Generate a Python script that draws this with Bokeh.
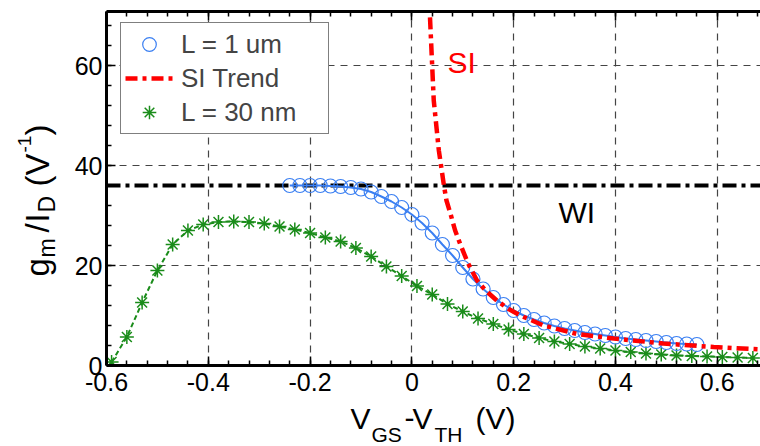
import math
from bokeh.plotting import figure
from bokeh.layouts import row, column
from bokeh.models import (Range1d, LinearAxis, FixedTicker, Label, Legend, LegendItem)
from bokeh.embed import file_html
from bokeh.resources import INLINE

# ---------------- data ----------------
l1um_vov = [-0.24, -0.22, -0.20, -0.18, -0.16, -0.14, -0.12, -0.10, -0.08, -0.06,
            -0.04, -0.02, 0.00, 0.02, 0.04, 0.06, 0.08, 0.10, 0.12, 0.14,
            0.16, 0.18, 0.20, 0.22, 0.24, 0.26, 0.28, 0.30, 0.32, 0.34,
            0.36, 0.38, 0.40, 0.42, 0.44, 0.46, 0.48, 0.50, 0.52, 0.54, 0.56]
l1um_gmid = [36.0, 36.0, 36.0, 36.0, 35.9, 35.8, 35.6, 35.3, 34.7, 33.8,
             32.8, 31.6, 30.2, 28.5, 26.5, 24.2, 22.0, 19.6, 17.3, 15.3,
             13.6, 12.2, 11.0, 10.0, 9.2, 8.5, 7.9, 7.4, 7.0, 6.6,
             6.3, 6.0, 5.7, 5.4, 5.2, 5.0, 4.8, 4.6, 4.4, 4.3, 4.2]

l30nm_vov = [-0.59, -0.56, -0.53, -0.50, -0.47, -0.44, -0.41, -0.38, -0.35, -0.32,
             -0.29, -0.26, -0.23, -0.20, -0.17, -0.14, -0.11, -0.08, -0.05, -0.02,
             0.01, 0.04, 0.07, 0.10, 0.13, 0.16, 0.19, 0.22, 0.25, 0.28,
             0.31, 0.34, 0.37, 0.40, 0.43, 0.46, 0.49, 0.52, 0.55, 0.58,
             0.61, 0.64, 0.67]
l30nm_gmid = [0.7, 5.7, 12.6, 19.0, 24.2, 27.0, 28.2, 28.7, 28.8, 28.7,
              28.4, 27.8, 27.2, 26.5, 25.6, 24.8, 23.5, 21.8, 19.8, 17.9,
              15.9, 14.2, 12.3, 10.8, 9.4, 8.3, 7.2, 6.3, 5.5, 4.8,
              4.3, 3.8, 3.4, 3.0, 2.7, 2.4, 2.2, 2.0, 1.9, 1.8,
              1.7, 1.6, 1.5]

si_vov = [0.032, 0.035, 0.043, 0.053, 0.063, 0.068, 0.076, 0.085, 0.095, 0.110,
          0.128, 0.145, 0.167, 0.190, 0.213, 0.259, 0.325, 0.397, 0.494, 0.593, 0.690]
si_gmid = [80.0, 71.0, 53.0, 43.0, 36.0, 33.0, 30.3, 27.0, 24.3, 20.5,
           17.0, 15.0, 13.0, 11.3, 10.0, 8.0, 6.3, 5.4, 4.4, 3.7, 3.2]

wi_vov = [-0.6, 0.69]
wi_gmid = [36.0, 36.0]

x_ticks = [-0.6, -0.4, -0.2, 0, 0.2, 0.4, 0.6]
x_tick_labels = ["-0.6", "-0.4", "-0.2", "0", "0.2", "0.4", "0.6"]
y_ticks = [0, 20, 40, 60]
y_tick_labels = ["0", "20", "40", "60"]

FONT = "Liberation Sans"
BLUE = "#3a7ff2"
GREEN = "#1a8c1a"
RED = "#ff0000"

X0, X1 = -0.6, 0.685
Y0, Y1 = 0.0, 70.8

# page geometry (pixels)
YLAB_W = 62
MAIN_W, MAIN_H = 760 - YLAB_W, 400
XLAB_H = 446 - MAIN_H
LEFT, BOTTOM = 106.0, 365.0
FW, FH = 654.0, 354.0
MID = 0.35  # Label anchor sits at text middle: baseline is this many font-sizes lower

p = figure(width=MAIN_W, height=MAIN_H, x_range=Range1d(X0, X1), y_range=Range1d(Y0, Y1),
           output_backend="svg", toolbar_location=None,
           min_border_left=int(LEFT) - YLAB_W, min_border_right=0,
           min_border_top=11, min_border_bottom=MAIN_H - int(BOTTOM))
p.outline_line_color = None
p.background_fill_color = "white"
p.border_fill_color = "white"

x_minor = [round(-0.6 + 0.04 * i, 2) for i in range(33)]
y_minor = [4 * i for i in range(18)]
xt = FixedTicker(ticks=x_ticks, minor_ticks=x_minor)
yt = FixedTicker(ticks=y_ticks, minor_ticks=y_minor)


def style_axis(ax, labels=True):
    ax.axis_line_width = 3
    ax.axis_line_color = "black"
    ax.major_tick_in = 9
    ax.major_tick_out = 0
    ax.minor_tick_in = 5
    ax.minor_tick_out = 0
    ax.major_tick_line_width = 1.5
    ax.minor_tick_line_width = 1.5
    ax.major_tick_line_color = "black"
    ax.minor_tick_line_color = "black"
    ax.major_label_text_font = FONT
    ax.major_label_text_color = "black"
    if labels:
        ax.major_label_text_font_size = "25px"
    else:
        ax.major_label_text_font_size = "0px"
        ax.major_label_standoff = 0


xa = p.xaxis[0]
xa.ticker = xt
xa.major_label_overrides = dict(zip(x_ticks, x_tick_labels))
style_axis(xa)
xa.major_label_standoff = 7

ya = p.yaxis[0]
ya.ticker = yt
ya.major_label_overrides = dict(zip(y_ticks, y_tick_labels))
style_axis(ya)
ya.major_label_standoff = 4

top = LinearAxis(ticker=xt)
style_axis(top, labels=False)
top.major_label_overrides = {t: "" for t in x_ticks}
p.add_layout(top, "above")

for g, t in ((p.xgrid[0], xt), (p.ygrid[0], yt)):
    g.ticker = t
    g.grid_line_color = "#444444"
    g.grid_line_dash = "7 6"
    g.grid_line_width = 1.2

# ---------------- series ----------------
p.line(wi_vov, wi_gmid, line_color="black", line_width=4, line_dash="14 5 4 5")

p.line(l30nm_vov, l30nm_gmid, line_color=GREEN, line_width=2, line_dash="5 3")
g_sc = p.scatter(l30nm_vov, l30nm_gmid, marker="asterisk", size=14,
                 line_color=GREEN, line_width=1.5)

p.line(l1um_vov, l1um_gmid, line_color=BLUE, line_width=2)
b_sc = p.scatter(l1um_vov, l1um_gmid, marker="circle", size=14,
                 line_color=BLUE, fill_color=None, line_width=1.2)

r_ln = p.line(si_vov, si_gmid, line_color=RED, line_width=4.5, line_dash="12 5 4 5")

legend = Legend(items=[LegendItem(label="L = 1 um", renderers=[b_sc]),
                       LegendItem(label="SI Trend", renderers=[r_ln]),
                       LegendItem(label="L = 30 nm", renderers=[g_sc])],
                location=(14, 231), border_line_color="black", border_line_width=1.5,
                padding=4, spacing=0, glyph_width=48, glyph_height=34,
                label_height=34, label_width=143, label_standoff=8,
                label_text_font=FONT, label_text_font_size="26px",
                background_fill_color="white", background_fill_alpha=1.0, margin=0)
p.add_layout(legend)


def dx(px):
    return X0 + (px - LEFT) * (X1 - X0) / FW


def dy(py):
    return Y0 + (BOTTOM - py) * (Y1 - Y0) / FH


def in_plot_label(px, base_py, text, size, color="black"):
    py = base_py - MID * size
    p.add_layout(Label(x=dx(px), y=dy(py), text=text, text_font=FONT,
                       text_font_size=f"{size}px", text_color=color,
                       text_align="left", text_baseline="alphabetic"))


in_plot_label(447, 72, "SI", 30, RED)
in_plot_label(558, 222, "WI", 30)


# ---------------- axis titles (own small canvases) ----------------
def blank(w, h, xr):
    f = figure(width=w, height=h, x_range=Range1d(*xr), y_range=Range1d(0, h),
               output_backend="svg", toolbar_location=None,
               x_axis_type=None, y_axis_type=None,
               min_border_left=0, min_border_right=0, min_border_top=0, min_border_bottom=0)
    f.outline_line_color = None
    f.xgrid.visible = False
    f.ygrid.visible = False
    f.background_fill_color = "white"
    f.border_fill_color = "white"
    return f


# x title: V_GS - V_TH (V)   (page px: x, baseline y, text, size)
# this canvas shares the main plot's frame columns (106 .. 760 px)
xl = blank(MAIN_W, XLAB_H, (LEFT, LEFT + FW))
for px, by, txt, s in [(350, 428, "V", 30), (371, 441, "GS", 21), (404, 428, "-", 30),
                       (412, 428, "V", 30), (434, 441, "TH", 21), (475, 428, "(V)", 30)]:
    ay = by - MID * s
    xl.add_layout(Label(x=px, y=446 - ay, text=txt, text_font=FONT,
                        text_font_size=f"{s}px", text_color="black",
                        text_align="left", text_baseline="alphabetic"))

# y title: g_m / I_D (V^-1)   (page px: baseline x, start y, text, size)
yl = blank(YLAB_W, 446, (0, YLAB_W))
A = math.pi / 2
for bx, sy, txt, s in [(49, 276, "g", 33), (55, 257, "m", 23), (49, 232, "/", 33),
                       (49, 222, "I", 33), (55, 212, "D", 23), (49, 186, "(", 33),
                       (49, 175, "V", 33), (31, 152, "-1", 19), (49, 135, ")", 33)]:
    ax_ = bx - MID * s
    yl.add_layout(Label(x=ax_, y=446 - sy, text=txt, text_font=FONT,
                        text_font_size=f"{s}px", text_color="black",
                        text_align="left", text_baseline="alphabetic", angle=A))

layout = row(yl, column(p, xl))

open("out.html", "w").write(file_html(layout, INLINE))
